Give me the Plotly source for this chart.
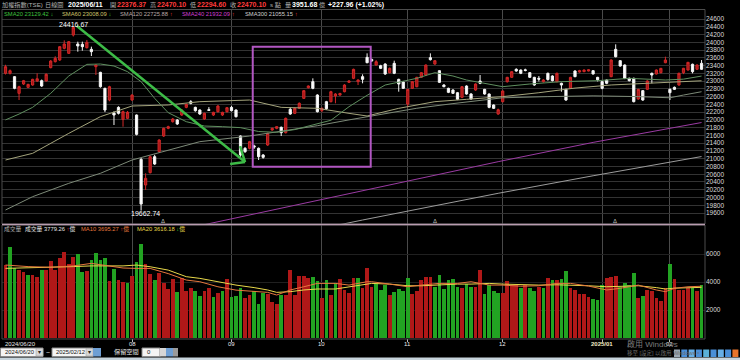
import plotly.graph_objects as go
import pandas as pd

W, H = 740, 360
FONT = "Liberation Sans, Noto Sans CJK TC, sans-serif"

# ---------------- trading calendar ----------------
holidays = ["2024-07-24", "2024-07-25", "2024-09-17", "2024-10-02", "2024-10-03",
            "2024-10-10", "2024-10-31", "2025-01-01", "2025-01-23", "2025-01-24",
            "2025-01-27", "2025-01-28", "2025-01-29", "2025-01-30", "2025-01-31"]
dates = [d.strftime("%Y-%m-%d") for d in pd.bdate_range("2024-06-20", "2025-02-12")
         if d.strftime("%Y-%m-%d") not in holidays]

# ---------------- daily candles ----------------
opens = [23200, 23200, 23114, 22684, 22925, 22839, 22899, 23002, 23011, 23002,
         23346, 23500, 23543, 23844, 23715, 24187, 23956, 23947, 23861, 23818,
         23371, 23225, 22813, 22512, 22177, 22323, 22014, 22040, 22512, 22126,
         20983, 20322, 20640, 21052, 21181, 21585, 21782, 21954, 21997, 22126,
         22323, 22470, 22323, 22255, 22023, 22264, 22126, 22212, 22126, 22212,
         22323, 22255, 21585, 21267, 21267, 21330, 21267, 21095, 21353, 21739,
         21782, 21808, 21671, 22272, 22169, 22298, 22555, 22830, 22985, 22641,
         22238, 22470, 22470, 22616, 22640, 22727, 22968, 23071, 22985, 23114,
         23612, 23560, 23414, 23397, 23440, 23217, 23457, 23045, 22976, 22409,
         22813, 22856, 23097, 23157, 23603, 23440, 23268, 22899, 22813, 22770,
         22701, 22581, 22873, 22667, 22770, 23002, 22787, 22667, 22384, 22152,
         22470, 22985, 23097, 23303, 23285, 23290, 23217, 23097, 23071, 22985,
         23200, 23131, 22985, 22942, 22787, 22813, 23260, 23234, 23243, 23260,
         23268, 23097, 22985, 23028, 23114, 23818, 23526, 23414, 23071, 23071,
         22538, 22753, 22787, 23200, 23183, 23217, 23474, 22787, 22839, 22899,
         23216, 23286, 23433, 23304, 23458]
highs = [23420, 23300, 23130, 22880, 23030, 22930, 23060, 23200, 23040, 23200,
         23540, 23640, 23900, 24050, 24030, 24416.67, 24016, 24016, 24060, 23887,
         23432, 23240, 22830, 22880, 22220, 22350, 22240, 22230, 22660, 22140,
         21020, 20623, 21080, 21100, 21500, 21800, 21850, 22050, 22020, 22270,
         22420, 22510, 22340, 22270, 22190, 22330, 22210, 22380, 22210, 22330,
         22360, 22270, 21600, 21300, 21460, 21360, 21290, 21120, 21670, 21800,
         21840, 21830, 22060, 22323, 22320, 22450, 22770, 22890, 23071, 22660,
         22320, 22490, 22750, 22690, 22700, 22920, 23020, 23320, 23045, 23174,
         23715, 23580, 23540, 23420, 23460, 23350, 23526, 23060, 22990, 22800,
         23000, 23110, 23230, 23430, 23715, 23540, 23280, 22920, 22830, 22790,
         22720, 22870, 22890, 22690, 22940, 23157, 22800, 22680, 22400, 22290,
         22760, 23110, 23260, 23330, 23300, 23320, 23230, 23110, 23130, 23050,
         23220, 23150, 23220, 22960, 22800, 23110, 23280, 23290, 23300, 23300,
         23285, 23110, 23000, 23040, 23560, 23947, 23540, 23430, 23090, 23090,
         22800, 22770, 23020, 23220, 23300, 23340, 23629, 22810, 22860, 23220,
         23340, 23490, 23450, 23430, 23543]
lows = [23170, 23170, 22790, 22512, 22900, 22820, 22880, 22980, 22850, 22990,
        23330, 23480, 23520, 23820, 23700, 24150, 23758, 23784, 23840, 23646,
        23157, 22830, 22200, 22480, 21868, 22140, 21825, 22020, 22490, 21600,
        19662.74, 20193, 20620, 20840, 21160, 21560, 21760, 21930, 21870, 22100,
        22300, 22400, 22210, 22130, 22000, 22230, 22100, 22190, 22100, 22190,
        22220, 22060, 21050, 21150, 21240, 21250, 20966, 21000, 21330, 21720,
        21760, 21585, 21650, 22130, 22150, 22280, 22540, 22810, 22790, 22190,
        22200, 22255, 22450, 22427, 22620, 22710, 22950, 23050, 22899, 22942,
        23460, 23500, 23400, 23310, 23160, 23200, 23180, 22727, 22800, 22323,
        22800, 22840, 23080, 23140, 23530, 23420, 22950, 22840, 22690, 22670,
        22510, 22560, 22650, 22520, 22750, 22920, 22650, 22300, 22280, 22130,
        22450, 22960, 23080, 23240, 23180, 23250, 23080, 22880, 22990, 22960,
        23010, 22990, 22970, 22727, 22490, 22800, 23100, 23220, 23230, 23250,
        23170, 22990, 22790, 22920, 23100, 23610, 23370, 23050, 22990, 22450,
        22520, 22490, 22770, 22942, 23170, 23200, 23460, 22512, 22770, 22880,
        23180, 23270, 23200, 23290, 23290]
closes = [23371, 23268, 22813, 22856, 23011, 22916, 23045, 23060, 22873, 23174,
          23517, 23586, 23887, 23956, 24016, 24385, 23904, 23887, 23999, 23758,
          23414, 22856, 22255, 22856, 22126, 22169, 22212, 22195, 22641, 21628,
          19830.88, 20494, 21052, 20863, 21482, 21782, 21825, 22023, 21894, 22255,
          22401, 22427, 22238, 22152, 22170, 22245, 22195, 22358, 22195, 22315,
          22238, 22083, 21095, 21181, 21439, 21300, 21052, 21035, 21653, 21782,
          21825, 21671, 22040, 22152, 22298, 22427, 22753, 22873, 22813, 22212,
          22298, 22290, 22727, 22667, 22680, 22899, 23002, 23303, 23028, 23045,
          23474, 23517, 23500, 23328, 23183, 23328, 23200, 22925, 22813, 22787,
          22985, 23097, 23217, 23414, 23552, 23526, 22968, 22856, 22710, 22684,
          22530, 22856, 22667, 22538, 22925, 22942, 22667, 22323, 22298, 22262,
          22744, 23097, 23243, 23260, 23200, 23275, 23097, 22899, 23050, 23028,
          23040, 23011, 23200, 22899, 22512, 23097, 23114, 23268, 23285, 23290,
          23183, 23035, 22813, 22942, 23543, 23629, 23389, 23071, 23011, 22470,
          22787, 22512, 23002, 23157, 23285, 23328, 23543, 22701, 22787, 23200,
          23330, 23484, 23242, 23415, 23304]
prev_close = 23250  # close of the session before the first bar (est.)

# volume in 億
volumes = [5212, 6521, 5000, 4855, 4736, 4498, 4498, 4379, 4855, 4855,
           5498, 4855, 5688, 6164, 5260, 5807, 5998, 4689, 4784, 5569,
           6093, 5569, 5688, 4070, 4927, 4141, 3975, 3903, 4427, 5450,
           6688, 5260, 4546, 4141, 4665, 3903, 3499, 4189, 3308, 4308,
           3356, 3594, 3356, 3023, 3356, 3546, 2951, 3189, 3356, 4189,
           2951, 3023, 3594, 2832, 3070, 3356, 2404, 3189, 3165, 2547,
           2404, 3070, 3070, 4855, 3070, 4451, 4451, 4260, 4332, 4070,
           2880, 4141, 3070, 3903, 4189, 3427, 3237, 4308, 4308, 3594,
           4974, 3665, 3832, 3427, 3784, 3070, 3308, 3499, 3356, 4260,
           3165, 3356, 4141, 4355, 4355, 3665, 4498, 3499, 4141, 4189,
           3665, 3594, 3856, 3665, 3665, 4855, 3142, 3784, 3356, 3189,
           3237, 4070, 3784, 3784, 3594, 3784, 3546, 3356, 3665, 3546,
           4260, 4141, 4141, 4213, 4784, 3594, 3427, 3118, 3118, 2951,
           2785, 2713, 3784, 4260, 4379, 4427, 3665, 3903, 3784, 4617,
           2832, 2999, 3427, 3356, 2832, 2642, 3546, 5260, 4213, 3427,
           3427, 3594, 3594, 3356, 3779.26]

# ---------------- moving averages ----------------
sma20_idx = [0, 3, 6, 10, 14, 18, 21, 24, 27, 30, 33, 36, 40, 44, 48, 52, 56, 60, 64, 68,
             72, 76, 80, 84, 88, 91, 95, 99, 102, 106, 110, 116, 123, 131, 138, 146, 150, 154]
sma20_val = [22000, 22150, 22323, 22684, 23131, 23431, 23440, 23389, 23243, 22985,
             22555, 22186, 21954, 21842, 21825, 21800, 21700, 21680, 21750, 21880,
             21990, 22340, 22633, 22899, 23002, 23071, 23217, 23131, 23028, 22942,
             22856, 22925, 22985, 23011, 23071, 23028, 23050, 23129.42]
sma60_idx = [0, 6, 14, 21, 28, 36, 43, 54, 61, 69, 76, 80, 87, 95, 102, 110, 118, 126,
             134, 142, 148, 154]
sma60_val = [20966, 21138, 21653, 22083, 22358, 22384, 22470, 22512, 22323, 22298, 22169,
             22100, 22298, 22470, 22530, 22600, 22700, 22820, 22900, 22950, 22980, 23008.09]
sma120_idx = [0, 6, 14, 21, 28, 36, 43, 54, 61, 69, 76, 84, 91, 99, 106, 110, 120, 130,
              140, 147, 150, 154]
sma120_val = [19678, 20021, 20365, 20623, 20966, 21224, 21439, 21585, 21700, 21850, 22000,
              22150, 22300, 22420, 22520, 22570, 22600, 22620, 22600, 22570, 22640, 22725.88]
sma240_idx = [44, 54, 80, 109, 130, 154]
sma240_val = [19300, 19549, 20190, 20923, 21420, 21932.09]
sma300_idx = [74, 79, 109, 130, 154]
sma300_val = [19300, 19420, 20108, 20560, 21055.15]

vma_idx = [0, 5, 10, 15, 19, 22, 26, 29, 32, 36, 40, 43, 47, 51, 55, 58, 60, 63, 66, 69,
           73, 76, 80, 81, 85, 89, 92, 96, 100, 103, 107, 110, 114, 118, 122, 125, 129, 133,
           136, 140, 144, 146, 148, 151, 154]
vma10_val = [5212, 5100, 5050, 5150, 5330, 5210, 5000, 4970, 4970, 4600, 4140, 4020, 3660,
             3420, 3330, 3260, 3070, 3430, 3660, 3900, 3900, 3780, 4020, 4020, 3850, 3660,
             3780, 3900, 3900, 4020, 3780, 3780, 3700, 3730, 3900, 3900, 3710, 3430, 3550,
             3780, 3430, 3310, 3550, 3660, 3695.27]
vma20_val = [4974, 5000, 5050, 5100, 5150, 5150, 5150, 5210, 5090, 4850, 4380, 4260, 4020,
             3780, 3600, 3430, 3260, 3310, 3430, 3500, 3500, 3660, 3850, 3900, 3850, 3730,
             3730, 3800, 3850, 3850, 3900, 3850, 3800, 3780, 3800, 3780, 3730, 3660, 3690,
             3730, 3600, 3500, 3560, 3600, 3616.18]

# ---------------- ticks & header values ----------------
price_ticks = list(range(19600, 24601, 200))
vol_ticks = [2000, 4000, 6000]
month_tick_dates = ["2024-06-20", "2024-08-01", "2024-09-02", "2024-10-01",
                    "2024-11-01", "2024-12-02", "2025-01-02", "2025-02-03"]
month_tick_text = ["2024/06/20", "08", "09", "10", "11", "12", "2025/01", "02"]

hdr_name = "加權指數(TSE)"
hdr_period = "日線圖"
hdr_date = "2025/06/11"
hdr_open, hdr_high, hdr_low, hdr_close = 22376.37, 22470.10, 22294.60, 22470.10
hdr_vol, hdr_chg, hdr_pct = 3951.68, 227.96, 1.02

peak_idx, peak_val = 15, 24416.67
trough_idx, trough_val = 30, 19662.74

# ---------------- styling helpers ----------------
def px(x):
    return x / W

def py(y):
    return 1 - y / H

RED_BODY, RED_LINE = "#a51616", "#d22828"
VOL_RED, VOL_GREEN = "#b01818", "#22a322"
GREY, WHITE, HRED = "#b0b0b0", "#ffffff", "#ff3b3b"
UP, DN = "<span style='color:#ff3b3b'>↑</span>", "<span style='color:#36c936'>↓</span>"

fig = go.Figure()

fig.add_trace(go.Candlestick(
    x=dates, open=opens, high=highs, low=lows, close=closes,
    increasing=dict(line=dict(color=RED_LINE, width=1), fillcolor=RED_BODY),
    decreasing=dict(line=dict(color="#f4f4f4", width=1), fillcolor="#ffffff"),
    whiskerwidth=0, xaxis="x", yaxis="y", hoverinfo="none"))

def ma_trace(idx, vals, color, xa="x", ya="y", width=1):
    return go.Scatter(x=[dates[i] for i in idx], y=vals, mode="lines",
                      line=dict(color=color, width=width), xaxis=xa, yaxis=ya,
                      hoverinfo="skip")

fig.add_trace(ma_trace(sma300_idx, sma300_val, "#9c9c9c"))
fig.add_trace(ma_trace(sma240_idx, sma240_val, "#9b3ba3"))
fig.add_trace(ma_trace(sma120_idx, sma120_val, "#7d8a78"))
fig.add_trace(ma_trace(sma60_idx, sma60_val, "#a4a47c"))
fig.add_trace(ma_trace(sma20_idx, sma20_val, "#5f8f5f"))

prevs = [prev_close] + closes[:-1]
vol_colors = [VOL_RED if c >= p else VOL_GREEN for c, p in zip(closes, prevs)]
fig.add_trace(go.Bar(x=dates, y=volumes, marker=dict(color=vol_colors, line=dict(width=0)),
                     width=0.82, xaxis="x2", yaxis="y2", hoverinfo="skip"))
fig.add_trace(ma_trace(vma_idx, vma20_val, "#e8d84a", "x2", "y2"))
fig.add_trace(ma_trace(vma_idx, vma10_val, "#e6783e", "x2", "y2"))

xr = [-0.774, 154.76]
grid_dates = month_tick_dates[1:]
common_x = dict(type="category", range=xr, domain=[px(2), px(705)], tickvals=grid_dates,
                showticklabels=False, showgrid=True, gridcolor="#4a4a4a", gridwidth=1,
                zeroline=False, showline=False, fixedrange=True)
fig.update_layout(
    width=W, height=H, margin=dict(l=0, r=0, t=0, b=0),
    paper_bgcolor="#000000", plot_bgcolor="#000000", showlegend=False,
    font=dict(family=FONT, color=WHITE), bargap=0, hovermode=False,
    xaxis=dict(**common_x, anchor="y", rangeslider=dict(visible=False)),
    xaxis2=dict(**common_x, anchor="y2", matches="x", ticks="outside", ticklen=3,
                tickcolor="#bbbbbb"),
    yaxis=dict(domain=[py(224), py(9.5)], range=[19317, 24845], side="right",
               tickvals=price_ticks, tickformat="d", showgrid=True, gridcolor="#333333",
               zeroline=False, ticks="", anchor="x", fixedrange=True,
               tickfont=dict(size=6.5, color="#dadada", family=FONT)),
    yaxis2=dict(domain=[py(338), py(225)], range=[0, 8071], side="right",
                tickvals=vol_ticks, tickformat="d", showgrid=True, gridcolor="#202020",
                zeroline=False, ticks="", anchor="x2", fixedrange=True,
                tickfont=dict(size=6.5, color="#dadada", family=FONT)),
)

shapes = []
# panel frames
shapes.append(dict(type="rect", xref="paper", yref="paper", x0=px(2), x1=px(705),
                   y0=py(224), y1=py(9.5), line=dict(color="#4d4d4d", width=1)))
shapes.append(dict(type="rect", xref="paper", yref="paper", x0=px(2), x1=px(705),
                   y0=py(339), y1=py(225), line=dict(color="#4d4d4d", width=1)))
shapes.append(dict(type="line", xref="paper", yref="paper", x0=px(2), x1=px(705),
                   y0=py(224.5), y1=py(224.5), line=dict(color="#b99cb0", width=1.5)))
# green trend arrow (drawn on the chart)
shapes.append(dict(type="line", xref="x", yref="y", x0=15.8, y0=24420, x1=53.0, y1=20914,
                   line=dict(color="#3dbb47", width=2.5)))
shapes.append(dict(type="line", xref="x", yref="y", x0=53.0, y0=20914, x1=49.7, y1=20863,
                   line=dict(color="#3dbb47", width=2.5)))
shapes.append(dict(type="line", xref="x", yref="y", x0=53.0, y0=20914, x1=51.9, y1=21327,
                   line=dict(color="#3dbb47", width=2.5)))
# purple box
shapes.append(dict(type="rect", xref="x", yref="y", x0=54.7, x1=80.8, y0=20793, y1=23886,
                   line=dict(color="#b257c2", width=2)))

# bottom control bar
shapes.append(dict(type="rect", xref="paper", yref="paper", x0=0, x1=1, y0=0, y1=py(357.5),
                   fillcolor="#c7d4dc", line=dict(width=0)))
for x0, x1 in [(0.5, 43), (52, 93)]:
    shapes.append(dict(type="rect", xref="paper", yref="paper", x0=px(x0), x1=px(x1),
                       y0=py(356.5), y1=py(348), fillcolor="#f4f4f4",
                       line=dict(color="#8a8a8a", width=1)))
    shapes.append(dict(type="rect", xref="paper", yref="paper", x0=px(x1 - 7), x1=px(x1),
                       y0=py(356), y1=py(348.5), fillcolor="#d6d6d6",
                       line=dict(color="#9a9a9a", width=0.5)))
shapes.append(dict(type="rect", xref="paper", yref="paper", x0=px(93), x1=px(101),
                   y0=py(356.5), y1=py(348), fillcolor="#6f9fd4", line=dict(width=0)))
shapes.append(dict(type="rect", xref="paper", yref="paper", x0=px(142), x1=px(160),
                   y0=py(356.5), y1=py(348), fillcolor="#f4f4f4",
                   line=dict(color="#8a8a8a", width=1)))
shapes.append(dict(type="rect", xref="paper", yref="paper", x0=px(160), x1=px(166),
                   y0=py(356.5), y1=py(348), fillcolor="#d6d6d6", line=dict(width=0)))
shapes.append(dict(type="rect", xref="paper", yref="paper", x0=px(166), x1=px(173),
                   y0=py(356.5), y1=py(348), fillcolor="#6f9fd4", line=dict(width=0)))
shapes.append(dict(type="rect", xref="paper", yref="paper", x0=px(173), x1=px(178),
                   y0=py(356.5), y1=py(348), fillcolor="#9a9a9a", line=dict(width=0)))
icon_cols = ["#9aa8b4", "#4a8fd8", "#66aee6", "#4a8fd8", "#5ab0d8", "#4a8fd8",
             "#66aee6", "#4a8fd8", "#e8742a"]
for k, c in enumerate(icon_cols):
    x0 = 674 + k * 7.3
    shapes.append(dict(type="rect", xref="paper", yref="paper", x0=px(x0), x1=px(x0 + 6),
                       y0=py(357), y1=py(349.5), fillcolor=c, line=dict(width=0)))
fig.update_layout(shapes=shapes)

ann = []
def txt(x, y, s, size=7.0, color=WHITE, xanchor="left"):
    ann.append(dict(x=px(x), y=py(y), xref="paper", yref="paper", text=s, showarrow=False,
                    xanchor=xanchor, yanchor="middle", font=dict(size=size, color=color,
                                                                  family=FONT)))

# header row
txt(0, 5, hdr_name, 6.2, GREY)
txt(43, 5, hdr_period, 6.2, GREY)
txt(66, 5, f"<b>{hdr_date}</b>", 7, WHITE)
txt(108, 5, "開", 6.2, GREY)
txt(115, 5, f"<b>{hdr_open:.2f}</b>", 7, HRED)
txt(148, 5, "高", 6.2, GREY)
txt(155, 5, f"<b>{hdr_high:.2f}</b>", 7, HRED)
txt(188, 5, "低", 6.2, GREY)
txt(195, 5, f"<b>{hdr_low:.2f}</b>", 7, HRED)
txt(228, 5, "收", 6.2, GREY)
txt(235, 5, f"<b>{hdr_close:.2f}</b>", 7, HRED)
txt(268, 5, "s 點", 6.2, GREY)
txt(283, 5, "量", 6.2, GREY)
txt(290, 5, f"<b>{hdr_vol:.2f}</b>", 7, WHITE)
txt(317, 5, "億", 6.2, GREY)
txt(326, 5, f"<b>+{hdr_chg:.2f} (+{hdr_pct:.2f}%)</b>", 7, WHITE)

# SMA legend row
txt(2, 14.5, f"SMA20 {sma20_val[-1]:.2f} {DN}", 5.8, "#3ec23e")
txt(60, 14.5, f"SMA60 {sma60_val[-1]:.2f} {DN}", 5.8, "#cfc46a")
txt(118, 14.5, f"SMA120 {sma120_val[-1]:.2f} {UP}", 5.8, "#b9a7a7")
txt(180, 14.5, f"SMA240 {sma240_val[-1]:.2f} {UP}", 5.8, "#d23ed2")
txt(243, 14.5, f"SMA300 {sma300_val[-1]:.2f} {UP}", 5.8, "#d0d0d0")

# volume legend row
txt(2, 229, "成交量", 5.8, GREY)
txt(23, 229, f"成交量 {volumes[-1]:.2f} {UP}億", 5.8, "#e6e6e6")
txt(79, 229, f"MA10 {vma10_val[-1]:.2f} {UP}億", 5.8, "#e6783e")
txt(135, 229, f"MA20 {vma20_val[-1]:.2f} {DN}億", 5.8, "#e8d84a")

# event markers
for xm in [163, 435, 615]:
    txt(xm, 221, "Δ", 6, "#bdbdbd", "center")

# peak / trough labels
ann.append(dict(x=dates[peak_idx], y=peak_val, xref="x", yref="y", text=f"{peak_val:.2f}",
                showarrow=False, xanchor="center", yanchor="middle", yshift=2,
                font=dict(size=7, color=WHITE, family=FONT)))
ann.append(dict(x=dates[trough_idx], y=trough_val, xref="x", yref="y",
                text=f"{trough_val:.2f}", showarrow=False, xanchor="center",
                yanchor="middle", xshift=4, yshift=-3,
                font=dict(size=7, color=WHITE, family=FONT)))

# x axis labels
for d, t in zip(month_tick_dates, month_tick_text):
    first = d == month_tick_dates[0]
    ann.append(dict(x=d, y=py(344), xref="x", yref="paper",
                    text=(f"<b>{t}</b>" if "2025" in t else t),
                    showarrow=False, xanchor="left" if first else "center",
                    xshift=-3 if first else 0, yanchor="middle",
                    font=dict(size=6, color="#f3ecc4" if "2025" in t else "#e8e8e8",
                              family=FONT)))

# bottom controls text
txt(2.5, 352.3, "2024/06/20", 5.8, "#111111")
txt(39.5, 352.3, "▾", 6, "#222222", "center")
txt(47.5, 352.3, "~", 7, "#dddddd", "center")
txt(54, 352.3, "2025/02/12", 5.8, "#111111")
txt(89.5, 352.3, "▾", 6, "#222222", "center")
txt(112, 352.3, "保留空間", 6.2, "#e8e8e8")
txt(145, 352.3, "0", 6, "#111111")
# OS watermark visible in the screenshot
txt(625, 344, "啟用 Windows", 8, "#7c7c7c")
txt(625, 353, "移至 [設定] 以啟用 Windows。", 5.5, "#6a6a6a")

fig.update_layout(annotations=ann)
fig.write_html("out.html", config={"displayModeBar": False, "staticPlot": True},
               post_script="document.body.style.margin='0px';"
                           "document.body.style.overflow='hidden';")
